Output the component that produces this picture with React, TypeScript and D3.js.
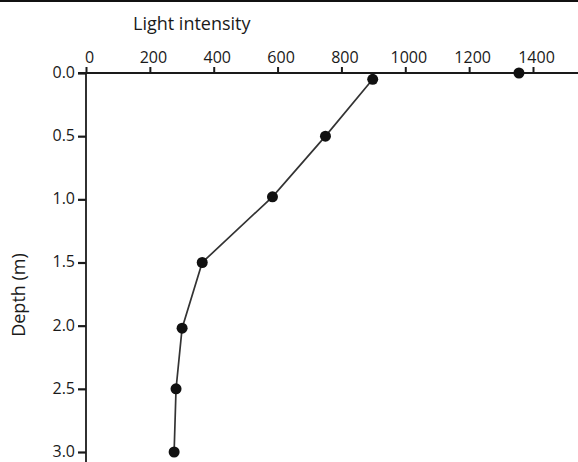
import React, { useEffect, useRef } from "react";
import * as d3 from "d3";

// profile readings (light intensity vs depth)
const depths = [0.05, 0.5, 0.98, 1.5, 2.02, 2.5, 3.0];
const intensity = [898, 750, 584, 364, 301, 282, 276];
// stray surface reading, not joined to the profile
const outlierDepth = [0.0];
const outlierIntensity = [1356];

const xTicks = [0, 200, 400, 600, 800, 1000, 1200, 1400];
const yTicks = [0, 0.5, 1.0, 1.5, 2.0, 2.5, 3.0];

const width = 578;
const height = 462;
const font = "'Open Sans', 'Noto Sans', sans-serif";

export default function App() {
  const ref = useRef<SVGSVGElement>(null);

  useEffect(() => {
    const svg = d3.select(ref.current);
    svg.selectAll("*").remove();

    const x = d3.scaleLinear().domain([0, 1400]).range([86, 533]);
    const y = d3.scaleLinear().domain([0, 3]).range([73, 452]);

    // frame line at the very top
    svg
      .append("line")
      .attr("x1", 0)
      .attr("x2", width)
      .attr("y1", 1)
      .attr("y2", 1)
      .attr("stroke", "#111")
      .attr("stroke-width", 2);

    // top axis
    const gx = svg
      .append("g")
      .attr("transform", `translate(0,${y(0)})`)
      .call(
        d3
          .axisTop(x)
          .tickValues(xTicks)
          .tickSize(6)
          .tickPadding(4)
          .tickFormat((d) => String(d))
      );
    gx.select(".domain").remove();
    gx.selectAll(".tick line").attr("stroke", "#1a1a1a").attr("stroke-width", 2);
    gx.selectAll(".tick text")
      .attr("font-family", font)
      .attr("font-size", 16)
      .attr("fill", "#1a1a1a")
      .attr("dx", 3);

    svg
      .append("line")
      .attr("x1", x(0) - 8)
      .attr("x2", width)
      .attr("y1", y(0))
      .attr("y2", y(0))
      .attr("stroke", "#1a1a1a")
      .attr("stroke-width", 1.8);

    // left axis
    const gy = svg
      .append("g")
      .attr("transform", `translate(${x(0)},0)`)
      .call(
        d3
          .axisLeft(y)
          .tickValues(yTicks)
          .tickSize(8)
          .tickPadding(3)
          .tickFormat(d3.format(".1f"))
      );
    gy.select(".domain").remove();
    gy.selectAll(".tick line").attr("stroke", "#1a1a1a").attr("stroke-width", 2.2);
    gy.selectAll(".tick text")
      .attr("font-family", font)
      .attr("font-size", 16)
      .attr("fill", "#1a1a1a")
      .attr("dy", "0.28em");

    svg
      .append("line")
      .attr("x1", x(0))
      .attr("x2", x(0))
      .attr("y1", y(0))
      .attr("y2", height)
      .attr("stroke", "#1a1a1a")
      .attr("stroke-width", 1.8);

    // titles
    svg
      .append("text")
      .attr("x", 133)
      .attr("y", 30)
      .attr("font-family", font)
      .attr("font-size", 18)
      .attr("fill", "#1a1a1a")
      .text("Light intensity");

    svg
      .append("text")
      .attr("transform", `translate(25,295) rotate(-90)`)
      .attr("text-anchor", "middle")
      .attr("font-family", font)
      .attr("font-size", 18)
      .attr("fill", "#1a1a1a")
      .text("Depth (m)");

    // profile line + points
    const pts = depths.map((d, i) => ({ depth: d, value: intensity[i] }));
    const line = d3
      .line<{ depth: number; value: number }>()
      .x((d) => x(d.value))
      .y((d) => y(d.depth));

    svg
      .append("path")
      .datum(pts)
      .attr("d", line)
      .attr("fill", "none")
      .attr("stroke", "#333")
      .attr("stroke-width", 1.7);

    svg
      .selectAll(".pt")
      .data(pts)
      .join("circle")
      .attr("class", "pt")
      .attr("cx", (d) => x(d.value))
      .attr("cy", (d) => y(d.depth))
      .attr("r", 5.5)
      .attr("fill", "#111");

    svg
      .selectAll(".outlier")
      .data(outlierDepth.map((d, i) => ({ depth: d, value: outlierIntensity[i] })))
      .join("circle")
      .attr("class", "outlier")
      .attr("cx", (d) => x(d.value))
      .attr("cy", (d) => y(d.depth))
      .attr("r", 5.5)
      .attr("fill", "#111");
  }, []);

  return (
    <svg
      ref={ref}
      width={width}
      height={height}
      style={{ position: "absolute", left: 0, top: 0, background: "#fff" }}
    />
  );
}
